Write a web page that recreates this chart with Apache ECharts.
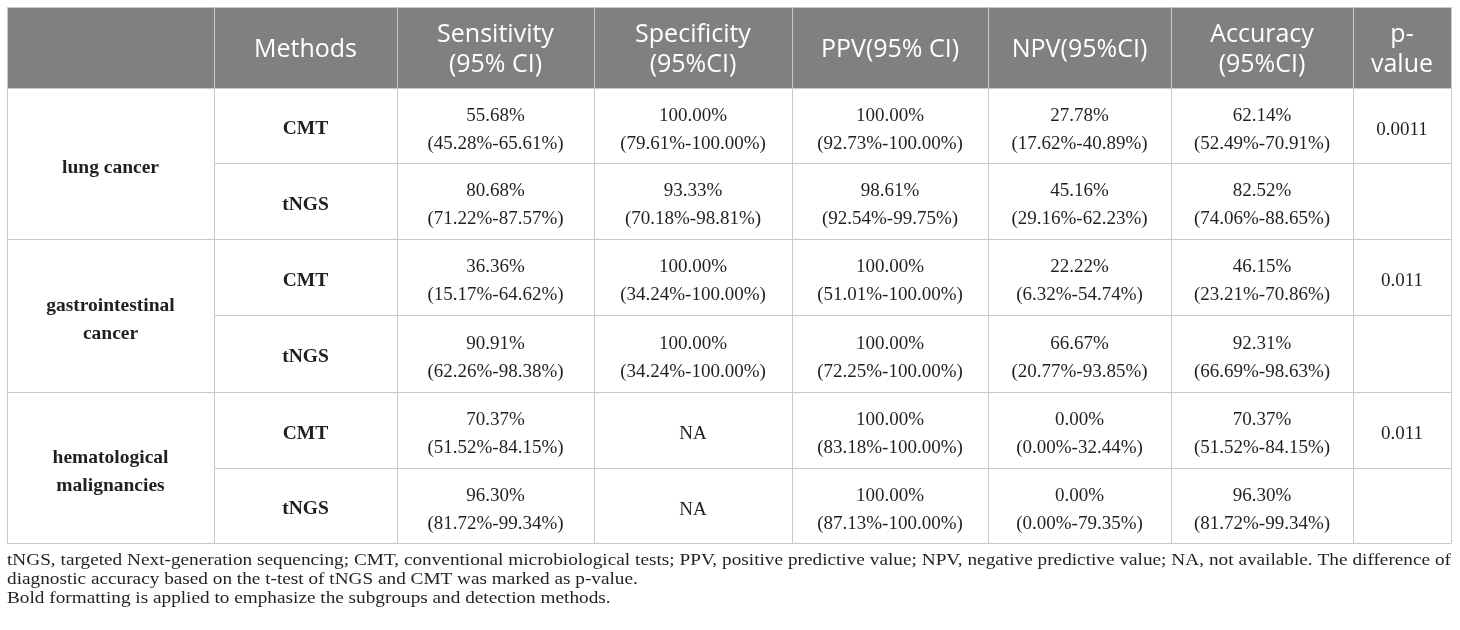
<!DOCTYPE html>
<html>
<head>
<meta charset="utf-8">
<script src="https://cdn.jsdelivr.net/npm/echarts@6/dist/echarts.min.js"></script>
<style>
  html, body { margin: 0; padding: 0; background: #fff; }
  #main { width: 1460px; height: 630px; }
</style>
</head>
<body>
<div id="main"></div>
<script>
// table content
var headers = ['', 'Methods', 'Sensitivity\n(95% CI)', 'Specificity\n(95%CI)', 'PPV(95% CI)', 'NPV(95%CI)', 'Accuracy\n(95%CI)', 'p-\nvalue'];
var subgroups = ['lung cancer', 'gastrointestinal\ncancer', 'hematological\nmalignancies'];
var methods = ['CMT', 'tNGS'];

// [estimate, lower, upper] in %, rows: lung CMT, lung tNGS, GI CMT, GI tNGS, hem CMT, hem tNGS
var sensitivity = [[55.68, 45.28, 65.61], [80.68, 71.22, 87.57], [36.36, 15.17, 64.62], [90.91, 62.26, 98.38], [70.37, 51.52, 84.15], [96.30, 81.72, 99.34]];
var specificity = [[100, 79.61, 100], [93.33, 70.18, 98.81], [100, 34.24, 100], [100, 34.24, 100], null, null];
var ppv = [[100, 92.73, 100], [98.61, 92.54, 99.75], [100, 51.01, 100], [100, 72.25, 100], [100, 83.18, 100], [100, 87.13, 100]];
var npv = [[27.78, 17.62, 40.89], [45.16, 29.16, 62.23], [22.22, 6.32, 54.74], [66.67, 20.77, 93.85], [0, 0, 32.44], [0, 0, 79.35]];
var accuracy = [[62.14, 52.49, 70.91], [82.52, 74.06, 88.65], [46.15, 23.21, 70.86], [92.31, 66.69, 98.63], [70.37, 51.52, 84.15], [96.30, 81.72, 99.34]];
var pValues = ['0.0011', '0.011', '0.011'];

var footnote = [
  'tNGS, targeted Next-generation sequencing; CMT, conventional microbiological tests; PPV, positive predictive value; NPV, negative predictive value; NA, not available. The difference of',
  'diagnostic accuracy based on the t-test of tNGS and CMT was marked as p-value.',
  'Bold formatting is applied to emphasize the subgroups and detection methods.'
];

// layout (axis units = px)
var colEdges = [0, 207, 390, 587, 785, 981, 1164, 1346, 1444];
var rowEdges = [0, 81, 156, 232, 308, 385, 461, 536];

var SERIF = '"Liberation Serif", "Times New Roman", serif';
var SANS = '"Open Sans", sans-serif';
var styles = {
  head: { bg: '#808080', color: '#ffffff', family: SANS, size: 25, weight: 'normal', lh: 30, dy: 2 },
  group: { bg: '#ffffff', color: '#231f20', family: SERIF, size: 19.5, weight: 'bold', lh: 28, dy: 4 },
  method: { bg: '#ffffff', color: '#231f20', family: SERIF, size: 19.5, weight: 'bold', lh: 28, dy: 3.5 },
  body: { bg: '#ffffff', color: '#231f20', family: SERIF, size: 19, weight: 'normal', lh: 28, dy: 4.5 }
};

function fmt(v) {
  if (!v) return 'NA';
  return v[0].toFixed(2) + '%\n(' + v[1].toFixed(2) + '%-' + v[2].toFixed(2) + '%)';
}

// build the cell list
var cells = [];
headers.forEach(function (h, i) {
  cells.push({ c0: i, c1: i + 1, r0: 0, r1: 1, text: h, kind: 'head' });
});
var metrics = [sensitivity, specificity, ppv, npv, accuracy];
subgroups.forEach(function (g, gi) {
  var r = 1 + gi * 2;
  cells.push({ c0: 0, c1: 1, r0: r, r1: r + 2, text: g, kind: 'group' });
  methods.forEach(function (m, mi) {
    var row = gi * 2 + mi;
    cells.push({ c0: 1, c1: 2, r0: r + mi, r1: r + mi + 1, text: m, kind: 'method' });
    metrics.forEach(function (arr, k) {
      cells.push({ c0: 2 + k, c1: 3 + k, r0: r + mi, r1: r + mi + 1, text: fmt(arr[row]), kind: 'body' });
    });
    cells.push({ c0: 7, c1: 8, r0: r + mi, r1: r + mi + 1, text: mi === 0 ? pValues[gi] : '', kind: 'body' });
  });
});

var cellData = cells.map(function (c) {
  return [colEdges[c.c0], rowEdges[c.r0], colEdges[c.c1], rowEdges[c.r1]];
});

// footnote, first line justified to the table width
var FN_SIZE = 17.5, FN_SCALE = 1.1, FN_LEFT = 7, FN_RIGHT = 1451;
var ctx = document.createElement('canvas').getContext('2d');
ctx.font = FN_SIZE + 'px ' + SERIF;
var fnY = [560.5, 579.5, 598];
var graphics = [];
footnote.forEach(function (line, li) {
  if (li === 0) {
    var words = line.split(' ');
    var widths = words.map(function (w) { return ctx.measureText(w).width * FN_SCALE; });
    var total = widths.reduce(function (a, b) { return a + b; }, 0);
    var gap = (FN_RIGHT - FN_LEFT - total) / (words.length - 1);
    var x = FN_LEFT;
    words.forEach(function (w, wi) {
      graphics.push({
        type: 'text', x: x, y: fnY[li], scaleX: FN_SCALE, silent: true,
        style: { text: w, fill: '#231f20', fontFamily: SERIF, fontSize: FN_SIZE, verticalAlign: 'middle', align: 'left' }
      });
      x += widths[wi] + gap;
    });
  } else {
    graphics.push({
      type: 'text', x: FN_LEFT, y: fnY[li], scaleX: FN_SCALE, silent: true,
      style: { text: line, fill: '#231f20', fontFamily: SERIF, fontSize: FN_SIZE, verticalAlign: 'middle', align: 'left' }
    });
  }
});

var chart = echarts.init(document.getElementById('main'));
chart.setOption({
  animation: false,
  grid: { left: 7, top: 7, width: 1444, height: 536 },
  xAxis: { type: 'value', min: 0, max: 1444, show: false },
  yAxis: { type: 'value', min: 0, max: 536, inverse: true, show: false },
  graphic: graphics,
  series: [{
    type: 'custom',
    data: cellData,
    encode: { x: [0, 2], y: [1, 3] },
    renderItem: function (params, api) {
      var c = cells[params.dataIndex];
      var st = styles[c.kind];
      var p0 = api.coord([api.value(0), api.value(1)]);
      var p1 = api.coord([api.value(2), api.value(3)]);
      return {
        type: 'group',
        children: [{
          type: 'rect',
          shape: { x: p0[0] + 0.5, y: p0[1] + 0.5, width: p1[0] - p0[0], height: p1[1] - p0[1] },
          style: { fill: st.bg, stroke: '#c8c8c8', lineWidth: 1 }
        }, {
          type: 'text',
          x: (p0[0] + p1[0]) / 2,
          y: (p0[1] + p1[1]) / 2 + st.dy,
          style: {
            text: c.text, fill: st.color, fontFamily: st.family, fontSize: st.size,
            fontWeight: st.weight, lineHeight: st.lh, align: 'center', verticalAlign: 'middle'
          }
        }]
      };
    }
  }]
});
</script>
</body>
</html>
